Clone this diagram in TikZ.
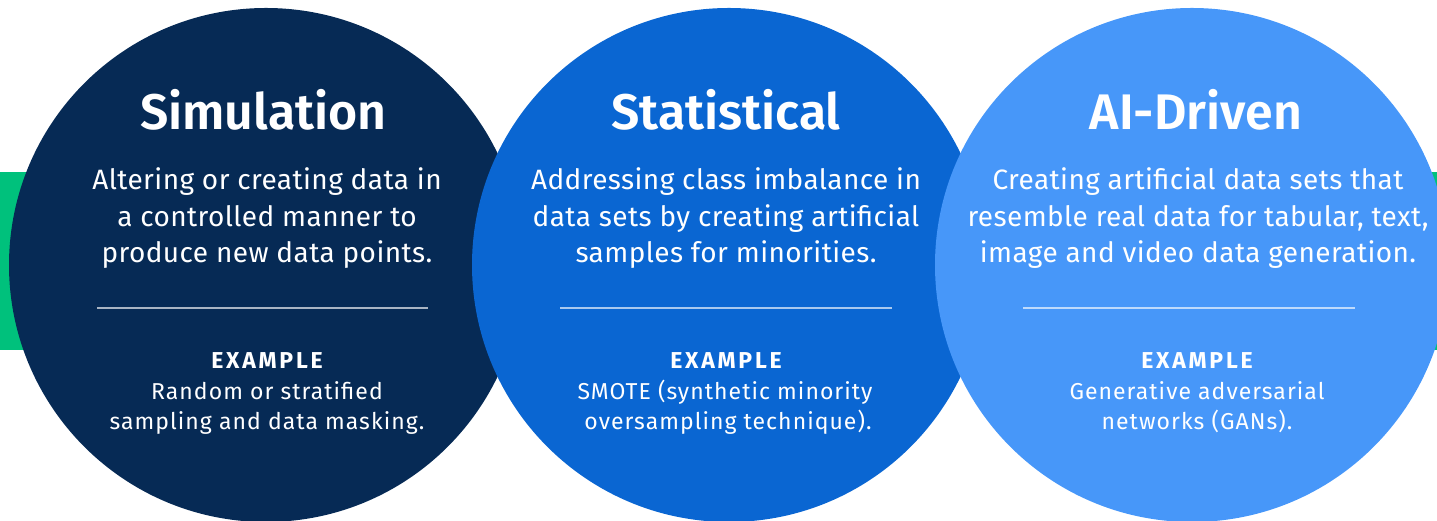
\documentclass[tikz,border=0pt]{standalone}
\usepackage{fontspec}
\setmainfont{Fira Sans}
\newfontfamily\titlefont{Fira Sans SemiBold}
\newfontfamily\bodyfont[LetterSpace=1.5]{Fira Sans}
\newfontfamily\exfont[LetterSpace=4.5]{Fira Sans}
\newfontfamily\exheadfont[LetterSpace=12]{Fira Sans Bold}
\definecolor{navy}{HTML}{062A55}
\definecolor{midblue}{HTML}{0A66D2}
\definecolor{lightblue}{HTML}{4797F9}
\definecolor{bandgreen}{HTML}{00C17C}
\tikzset{
  disc/.style={circle, inner sep=0pt, minimum size=514pt, draw=none},
  ttl/.style={text=white, anchor=base, inner sep=0pt, font=\titlefont\fontsize{50}{60}\selectfont},
  body/.style={text=white, anchor=base, inner sep=0pt, font=\bodyfont\fontsize{28}{34}\selectfont},
  exhead/.style={text=white, anchor=base, inner sep=0pt, font=\exheadfont\fontsize{23}{28}\selectfont},
  extext/.style={text=white, anchor=base, inner sep=0pt, font=\exfont\fontsize{23}{28}\selectfont},
  sep/.style={draw=white, draw opacity=0.65, line width=1.5pt}
}
\begin{document}
\begin{tikzpicture}[x=1pt,y=1pt]
\useasboundingbox (0,0) rectangle (1437,521);
\fill[bandgreen] (0,171) rectangle (1437,349);
\node[disc, fill=navy] (c1) at (266,256) {};
\node[disc, fill=midblue] (c2) at (729,256) {};
\node[disc, fill=lightblue] (c3) at (1192,256) {};
% column 1
\node[ttl] (t1) at (263.5,391) {Simulation};
\node[body] (b1a) at (267,331) {Altering or creating data in};
\node[body] (b1b) at (267,294.5) {a controlled manner to};
\node[body] (b1c) at (267,258) {produce new data points.};
\coordinate (s1l) at (97,213);
\coordinate (s1r) at (428,213);
\draw[sep] (s1l) -- (s1r);
\node[exhead] (e1) at (267,152) {EXAMPLE};
\node[extext] (x1a) at (267,121) {Random or stratified};
\node[extext] (x1b) at (267,91) {sampling and data masking.};
% column 2
\node[ttl] (t2) at (726,391) {Statistical};
\node[body] (b2a) at (726,331) {Addressing class imbalance in};
\node[body] (b2b) at (726,294.5) {data sets by creating artificial};
\node[body] (b2c) at (726,258) {samples for minorities.};
\coordinate (s2l) at (560,213);
\coordinate (s2r) at (892,213);
\draw[sep] (s2l) -- (s2r);
\node[exhead] (e2) at (726,152) {EXAMPLE};
\node[extext] (x2a) at (725,121) {SMOTE (synthetic minority};
\node[extext] (x2b) at (728,91) {oversampling technique).};
% column 3
\node[ttl] (t3) at (1196,391) {AI-Driven};
\node[body] (b3a) at (1198,331) {Creating artificial data sets that};
\node[body] (b3b) at (1198,294.5) {resemble real data for tabular, text,};
\node[body] (b3c) at (1198,258) {image and video data generation.};
\coordinate (s3l) at (1023,213);
\coordinate (s3r) at (1355,213);
\draw[sep] (s3l) -- (s3r);
\node[exhead] (e3) at (1197,152) {EXAMPLE};
\node[extext] (x3a) at (1197,121) {Generative adversarial};
\node[extext] (x3b) at (1197,91) {networks (GANs).};
\end{tikzpicture}
\end{document}
